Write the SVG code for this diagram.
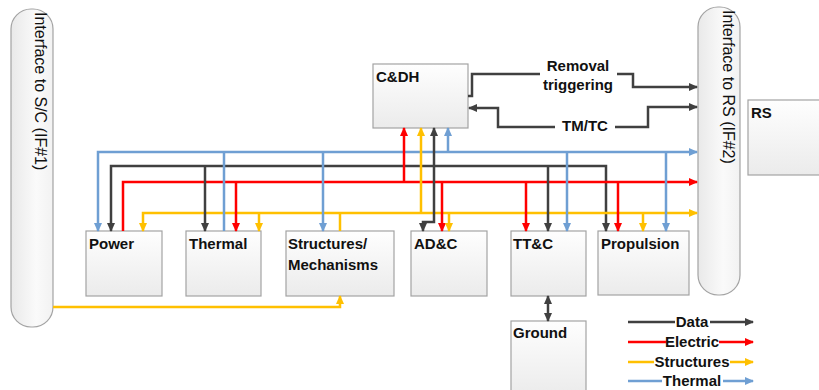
<svg xmlns="http://www.w3.org/2000/svg" width="819" height="390" viewBox="0 0 819 390">
<defs>
<linearGradient id="gBox" x1="0" y1="0" x2="0" y2="1"><stop offset="0" stop-color="#fefefe"/><stop offset="1" stop-color="#ebebeb"/></linearGradient>
<linearGradient id="gIf" x1="0" y1="0" x2="1" y2="0"><stop offset="0" stop-color="#e9e9e9"/><stop offset="0.6" stop-color="#fafafa"/><stop offset="1" stop-color="#f2f2f2"/></linearGradient>
<marker id="aK" markerUnits="userSpaceOnUse" markerWidth="9" markerHeight="8" refX="8" refY="4" orient="auto-start-reverse"><polygon points="0,0 9,4 0,8" fill="#404040"/></marker>
<marker id="aR" markerUnits="userSpaceOnUse" markerWidth="9" markerHeight="8" refX="8" refY="4" orient="auto-start-reverse"><polygon points="0,0 9,4 0,8" fill="#ff0000"/></marker>
<marker id="aY" markerUnits="userSpaceOnUse" markerWidth="9" markerHeight="8" refX="8" refY="4" orient="auto-start-reverse"><polygon points="0,0 9,4 0,8" fill="#ffc000"/></marker>
<marker id="aB" markerUnits="userSpaceOnUse" markerWidth="9" markerHeight="8" refX="8" refY="4" orient="auto-start-reverse"><polygon points="0,0 9,4 0,8" fill="#6f9fd3"/></marker>
</defs>
<style>
.box{fill:url(#gBox);stroke:#a3a3a3;stroke-width:1.2}
.if{fill:url(#gIf);stroke:#a3a3a3;stroke-width:1.2}
text{font-family:"Liberation Sans",Arial,sans-serif;fill:#111}
.lb{font-size:15px;font-weight:bold}
.it{font-size:16px}
.lg{font-size:15px;font-weight:bold;text-anchor:middle}
.c{fill:none;stroke-width:2.5;stroke-linejoin:miter}
.k{stroke:#404040}
.r{stroke:#ff0000}
.y{stroke:#ffc000}
.b{stroke:#6f9fd3}
.k.e{marker-end:url(#aK)} .r.e{marker-end:url(#aR)} .y.e{marker-end:url(#aY)} .b.e{marker-end:url(#aB)}
.k.s{marker-start:url(#aK)} .y.s{marker-start:url(#aY)} .b.s{marker-start:url(#aB)}
</style>
<rect width="819" height="390" fill="#ffffff"/>

<g id="if1"><rect class="if" x="11" y="9" width="42" height="318" rx="20"/><text class="it" transform="translate(35,12) rotate(90)">Interface to S/C (IF#1)</text></g>
<g id="if2"><rect class="if" x="698" y="7" width="42" height="288" rx="20"/><text class="it" transform="translate(723,10) rotate(90)">Interface to RS (IF#2)</text></g>
<g id="rs"><rect class="box" x="748" y="100" width="80" height="75"/><text class="lb" x="751" y="118">RS</text></g>
<g id="cdh"><rect class="box" x="373" y="64" width="95" height="64"/><text class="lb" x="376" y="82">C&amp;DH</text></g>
<g id="power"><rect class="box" x="86" y="231" width="76" height="65"/><text class="lb" x="89" y="249">Power</text></g>
<g id="thermal"><rect class="box" x="186" y="231" width="75" height="65"/><text class="lb" x="189" y="249">Thermal</text></g>
<g id="structures"><rect class="box" x="286" y="231" width="108" height="65"/><text class="lb" x="288" y="249">Structures/</text><text class="lb" x="288" y="270">Mechanisms</text></g>
<g id="adc"><rect class="box" x="411" y="231" width="76" height="65"/><text class="lb" x="414" y="249">AD&amp;C</text></g>
<g id="ttc"><rect class="box" x="511" y="231" width="75" height="65"/><text class="lb" x="513" y="249">TT&amp;C</text></g>
<g id="propulsion"><rect class="box" x="598" y="231" width="91" height="64"/><text class="lb" x="601" y="249">Propulsion</text></g>
<g id="ground"><rect class="box" x="511" y="321" width="75" height="75"/><text class="lb" x="513" y="338">Ground</text></g>

<g id="connectors">
<path class="c b e s" d="M697 152 H98 V231"/>
<path class="c k e s" d="M111 231 V166 H606 V231"/>
<path class="c r e" d="M123 231 V182 H697"/>
<path class="c y e s" d="M143 231 V213 H697"/>
<path class="c y" d="M340 231 V212"/>

<path class="c k e" d="M205 166 V231"/>
<path class="c k e" d="M434 166 V128"/>
<path class="c k e" d="M434 166 V222 H423 V231"/>
<path class="c k e" d="M548 166 V231"/>
<path class="c k e s" d="M548 296 V321"/>

<path class="c r e" d="M236 182 V231"/>
<path class="c r e" d="M404 182 V128"/>
<path class="c r e" d="M442 182 V231"/>
<path class="c r e" d="M526 182 V231"/>
<path class="c r e" d="M618 182 V231"/>

<path class="c y e" d="M259 213 V231"/>
<path class="c y e" d="M421 213 V128"/>
<path class="c y e" d="M449 213 V231"/>
<path class="c y e" d="M643 213 V231"/>
<path class="c y e" d="M53 307 H340 V296"/>

<path class="c b" d="M224 152 V231"/>
<path class="c b e" d="M323 152 V231"/>
<path class="c b e" d="M448 152 V128"/>
<path class="c b e" d="M567 152 V231"/>
<path class="c b e" d="M666 152 V231"/>

<path class="c k e" d="M468 96 H472 V74 H633 V87 H697"/>
<path class="c k e s" d="M697 107 H648 V127 H498 V108 H469"/>
<rect x="540" y="56" width="77" height="40" fill="#fff"/>
<text class="lg" x="578" y="71">Removal</text>
<text class="lg" x="578" y="90">triggering</text>
<rect x="555" y="117" width="60" height="18" fill="#fff"/>
<text class="lg" x="585" y="131">TM/TC</text>
</g>

<g id="legend">
<path class="c k e" d="M628 322 H753"/>
<path class="c r e" d="M628 342 H753"/>
<path class="c y e" d="M628 362 H753"/>
<path class="c b e" d="M628 381 H753"/>
<rect x="675" y="313" width="35" height="17" fill="#fff"/>
<rect x="666" y="333" width="53" height="17" fill="#fff"/>
<rect x="654" y="353" width="76" height="17" fill="#fff"/>
<rect x="662" y="372" width="61" height="17" fill="#fff"/>
<text class="lg" x="692" y="386">Thermal</text>
<text class="lg" x="692" y="327">Data</text>
<text class="lg" x="692" y="347">Electric</text>
<text class="lg" x="692" y="367">Structures</text>
</g>
</svg>
